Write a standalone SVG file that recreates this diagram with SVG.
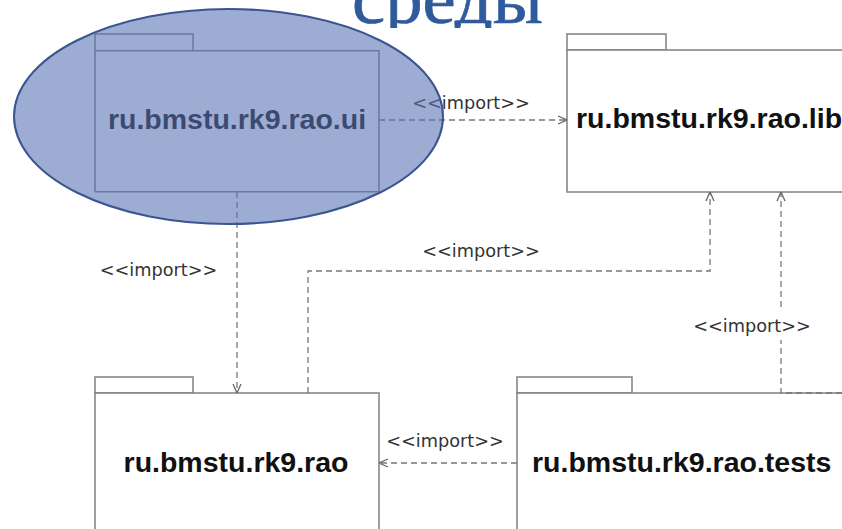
<svg xmlns="http://www.w3.org/2000/svg" width="842" height="529" viewBox="0 0 842 529">
  <defs>
    <style>
      .pkg { fill: #ffffff; stroke: #808080; stroke-width: 1.5; }
      .name { font-family: "Liberation Sans", Arial, sans-serif; font-weight: bold; font-size: 28.5px; fill: #111111; }
      .conn { fill: none; stroke: #777777; stroke-width: 1.3; stroke-dasharray: 6 4; }
      .lbl { font-family: "DejaVu Sans", Verdana, sans-serif; font-size: 17.7px; fill: #333333; text-anchor: middle; }
    </style>
    <marker id="open" viewBox="0 0 10 10" refX="10" refY="5" markerWidth="10" markerHeight="10" markerUnits="userSpaceOnUse" orient="auto">
      <path d="M1,1 L10,5 L1,9" fill="none" stroke="#666666" stroke-width="1.3"/>
    </marker>
    <clipPath id="titleClip">
      <rect x="0" y="0" width="842" height="28"/>
    </clipPath>
  </defs>

  <rect width="842" height="529" fill="#ffffff"/>

  <!-- slide title, partly hidden by the diagram area -->
  <text x="352" y="23" clip-path="url(#titleClip)" font-family="Liberation Serif, Times New Roman, serif" font-size="72" fill="#2f5b9c" stroke="#2f5b9c" stroke-width="0.7" textLength="191" lengthAdjust="spacingAndGlyphs">среды</text>

  <g id="pkg-ui">
    <rect class="pkg" x="95" y="34" width="98" height="16.7"/>
    <rect class="pkg" x="95" y="50.7" width="284" height="141"/>
    <text class="name" x="237" y="129" text-anchor="middle">ru.bmstu.rk9.rao.ui</text>
  </g>

  <g id="pkg-lib">
    <rect class="pkg" x="567" y="34" width="99" height="16"/>
    <rect class="pkg" x="567" y="50" width="300" height="142"/>
    <text class="name" x="576" y="128">ru.bmstu.rk9.rao.lib</text>
  </g>

  <g id="pkg-rao">
    <rect class="pkg" x="95" y="377" width="98" height="16"/>
    <rect class="pkg" x="95" y="393" width="284" height="200"/>
    <text class="name" x="236" y="471.5" text-anchor="middle">ru.bmstu.rk9.rao</text>
  </g>

  <g id="pkg-tests">
    <rect class="pkg" x="517" y="377" width="115" height="16"/>
    <rect class="pkg" x="517" y="393" width="400" height="200"/>
    <text class="name" x="532" y="471.5">ru.bmstu.rk9.rao.tests</text>
  </g>

  <g id="connectors">
    <path class="conn" d="M379,120 H567" marker-end="url(#open)"/>
    <text class="lbl" x="471" y="109">&lt;&lt;import&gt;&gt;</text>

    <path class="conn" d="M237,192 V393" marker-end="url(#open)"/>
    <text class="lbl" x="158.5" y="276">&lt;&lt;import&gt;&gt;</text>

    <path class="conn" d="M308,393 V271 H710 V192" marker-end="url(#open)"/>
    <text class="lbl" x="481" y="257">&lt;&lt;import&gt;&gt;</text>

    <path class="conn" d="M842,393 H781 V340 M781,307 V192" marker-end="url(#open)"/>
    <text class="lbl" x="752" y="332">&lt;&lt;import&gt;&gt;</text>

    <path class="conn" d="M517,463 H379" marker-end="url(#open)"/>
    <text class="lbl" x="445" y="447">&lt;&lt;import&gt;&gt;</text>
  </g>

  <!-- translucent highlight over the ui package -->
  <g id="highlight">
    <ellipse cx="228.5" cy="116.5" rx="214.5" ry="107.5" fill="#5972b3" fill-opacity="0.59" stroke="#3b5592" stroke-width="2"/>
  </g>
</svg>
